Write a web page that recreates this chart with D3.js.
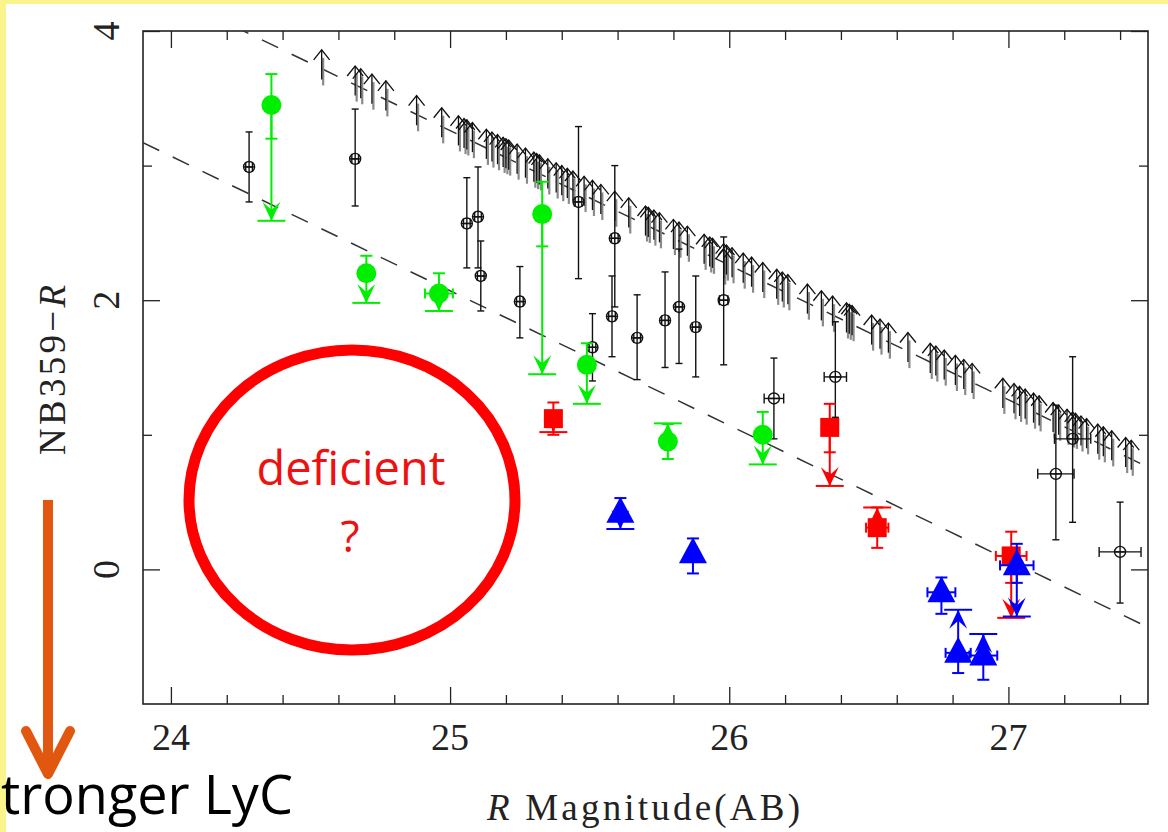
<!DOCTYPE html>
<html>
<head>
<meta charset="utf-8">
<script src="https://cdn.jsdelivr.net/npm/d3@7"></script>
<style>
  body { margin: 0; background: #fff; }
  .tick text { display: none; }
</style>
</head>
<body>
<div id="chart"></div>
<script>
// ---- lower limits (black arrows along the upper dashed line) ----
const limitMag = [24.54, 24.66, 24.68, 24.72, 24.77, 24.88, 24.97, 25.03, 25.05, 25.06,
    25.08, 25.13, 25.15, 25.17, 25.19, 25.20, 25.21, 25.24, 25.27, 25.30,
    25.31, 25.32, 25.35, 25.38, 25.40, 25.42, 25.44, 25.48, 25.51, 25.54,
    25.59, 25.64, 25.70, 25.71, 25.73, 25.75, 25.80, 25.82, 25.85, 25.91,
    25.93, 25.94, 25.98, 25.98, 25.99, 26.01, 26.05, 26.08, 26.12, 26.17,
    26.19, 26.21, 26.28, 26.33, 26.37, 26.42, 26.43, 26.44, 26.51, 26.54,
    26.57, 26.64, 26.72, 26.74, 26.77, 26.81, 26.84, 26.87, 26.98, 27.02,
    27.04, 27.06, 27.09, 27.11, 27.16, 27.18, 27.21, 27.23, 27.24, 27.26,
    27.28, 27.32, 27.34, 27.37, 27.42, 27.44];
const limitBase = [3.64, 3.52, 3.50, 3.46, 3.41, 3.30, 3.21, 3.15, 3.13, 3.12,
    3.10, 3.05, 3.03, 3.01, 2.99, 2.98, 2.97, 2.94, 2.91, 2.88,
    2.87, 2.86, 2.83, 2.80, 2.78, 2.76, 2.74, 2.70, 2.67, 2.64,
    2.59, 2.54, 2.48, 2.47, 2.45, 2.43, 2.38, 2.36, 2.33, 2.27,
    2.25, 2.24, 2.20, 2.16, 2.19, 2.17, 2.13, 2.10, 2.06, 2.01,
    1.99, 1.97, 1.90, 1.85, 1.81, 1.76, 1.75, 1.74, 1.67, 1.64,
    1.61, 1.54, 1.46, 1.44, 1.41, 1.37, 1.34, 1.31, 1.20, 1.16,
    1.14, 1.12, 1.09, 1.07, 1.02, 1.00, 0.97, 0.95, 0.94, 0.92,
    0.90, 0.86, 0.84, 0.81, 0.76, 0.74];

// ---- black detections ----
const blackMag  = [24.28, 24.66, 25.06, 25.10, 25.11, 25.25, 25.46, 25.59, 25.58, 25.51,
                   25.67, 25.77, 25.82, 25.88, 25.98, 26.16, 26.38, 27.17, 27.23, 27.40];
const blackVal  = [2.99, 3.05, 2.57, 2.62, 2.18, 1.99, 2.73, 2.46, 1.88, 1.65,
                   1.72, 1.85, 1.95, 1.80, 2.00, 1.27, 1.43, 0.71, 0.97, 0.13];
const blackHi   = [3.25, 3.42, 2.91, 2.99, 2.44, 2.25, 3.29, 3.00, 2.18, 1.90,
                   2.04, 2.21, 2.38, 2.18, 2.47, 1.57, 1.84, 1.22, 1.58, 0.50];
const blackLo   = [2.73, 2.70, 2.24, 2.24, 1.92, 1.72, 2.16, 1.95, 1.58, 1.40,
                   1.41, 1.50, 1.53, 1.43, 1.52, 0.97, 1.13, 0.22, 0.35, -0.25];
const blackXerr = [0.012, 0.012, 0.012, 0.012, 0.012, 0.012, 0.012, 0.012, 0.012, 0.012,
                   0.012, 0.012, 0.012, 0.012, 0.015, 0.035, 0.04, 0.065, 0.065, 0.075];

// ---- green circles ----
const greenMag  = [24.36, 24.70, 24.96, 25.33, 25.49, 25.78, 26.12];
const greenVal  = [3.45, 2.20, 2.05, 2.64, 1.52, 0.95, 1.00];
const greenHi   = [3.68, 2.33, 2.20, 2.88, 1.68, 1.08, 1.17];
const greenLo   = [3.20, null, null, 2.40, null, 0.82, null];
const greenLim  = [2.59, 1.98, 1.92, 1.45, 1.23, 1.085, 0.78];
const greenXerr = [0, 0, 0.05, 0, 0, 0, 0];

// ---- red squares ----
const redMag  = [25.37, 26.36, 26.53, 27.01];
const redVal  = [1.12, 1.055, 0.31, 0.10];
const redHi   = [1.24, 1.23, 0.46, 0.28];
const redLo   = [1.00, 0.87, 0.16, -0.10];
const redLim  = [1.02, 0.62, 0.46, -0.36];
const redXerr = [0, 0, 0.04, 0.055];

// ---- blue triangles ----
const blueMag  = [25.61, 25.87, 26.76, 26.82, 26.91, 27.03];
const blueVal  = [0.42, 0.12, -0.17, -0.62, -0.64, 0.03];
const blueHi   = [0.53, 0.23, -0.06, null, -0.48, 0.19];
const blueLo   = [null, -0.03, -0.33, -0.77, -0.82, -0.10];
const blueLim  = [0.30, null, null, -0.30, -0.48, -0.35];
const blueXerr = [0, 0, 0.05, 0.045, 0.05, 0.06];

// dashed reference lines: NB359-R = c - R
const dashLineC = [28.26, 27.07];

const xMajor = [24, 25, 26, 27];
const xMinor = [24.2, 24.4, 24.6, 24.8, 25.2, 25.4, 25.6, 25.8, 26.2, 26.4, 26.6, 26.8, 27.2, 27.4];
const yMajor = [0, 2, 4];
const yMinor = [1, 3];

const W = 1168, H = 832;
const frame = { left: 143, right: 1148, top: 31, bottom: 704 };

const svg = d3.select("#chart").append("svg")
    .attr("width", W)
    .attr("height", H)
    .style("font-family", "'Liberation Serif', serif");

svg.append("rect").attr("width", W).attr("height", H).attr("fill", "#fff");
// slide border
svg.append("rect").attr("width", W).attr("height", 4).attr("fill", "#fbf38c");
svg.append("rect").attr("width", 6).attr("height", H).attr("fill", "#fbf38c");

const x = d3.scaleLinear().domain([23.9, 27.5]).range([frame.left, frame.right]);
const y = d3.scaleLinear().domain([-1, 4]).range([frame.bottom, frame.top]);

svg.append("defs").append("clipPath").attr("id", "plot")
    .append("rect")
    .attr("x", frame.left).attr("y", frame.top)
    .attr("width", frame.right - frame.left)
    .attr("height", frame.bottom - frame.top);

// ---- axes ----
function addAxis(axisFn, scale, values, size, transform) {
    const g = svg.append("g")
        .attr("transform", transform)
        .call(axisFn(scale).tickValues(values).tickSize(-size).tickFormat(""));
    g.select(".domain").remove();
    g.selectAll(".tick line").attr("stroke", "#222").attr("stroke-width", 1.3);
}
addAxis(d3.axisBottom, x, xMajor, 17, `translate(0,${frame.bottom})`);
addAxis(d3.axisBottom, x, xMinor, 9, `translate(0,${frame.bottom})`);
addAxis(d3.axisTop, x, xMajor, 17, `translate(0,${frame.top})`);
addAxis(d3.axisTop, x, xMinor, 9, `translate(0,${frame.top})`);
addAxis(d3.axisLeft, y, yMajor, 17, `translate(${frame.left},0)`);
addAxis(d3.axisLeft, y, yMinor, 9, `translate(${frame.left},0)`);
addAxis(d3.axisRight, y, yMajor, 17, `translate(${frame.right},0)`);
addAxis(d3.axisRight, y, yMinor, 9, `translate(${frame.right},0)`);

svg.append("rect")
    .attr("x", frame.left).attr("y", frame.top)
    .attr("width", frame.right - frame.left)
    .attr("height", frame.bottom - frame.top)
    .attr("fill", "none")
    .attr("stroke", "#222")
    .attr("stroke-width", 1.6);

// tick labels
svg.append("g").selectAll("text")
    .data(xMajor).join("text")
    .attr("x", d => x(d))
    .attr("y", 750)
    .attr("text-anchor", "middle")
    .attr("font-size", 38)
    .attr("fill", "#222")
    .text(d => d);

svg.append("g").selectAll("text")
    .data(yMajor).join("text")
    .attr("transform", d => `translate(119,${y(d)}) rotate(-90)`)
    .attr("text-anchor", "middle")
    .attr("font-size", 38)
    .attr("fill", "#222")
    .text(d => d);

// axis titles
const xTitle = svg.append("text")
    .attr("x", 487).attr("y", 820)
    .attr("font-size", 37)
    .attr("fill", "#222")
    .attr("textLength", 313)
    .attr("lengthAdjust", "spacing");
xTitle.append("tspan").attr("font-style", "italic").text("R");
xTitle.append("tspan").text(" Magnitude(AB)");

const yTitle = svg.append("text")
    .attr("transform", "translate(65,455) rotate(-90)")
    .attr("font-size", 37)
    .attr("fill", "#222")
    .attr("textLength", 170)
    .attr("lengthAdjust", "spacing");
yTitle.append("tspan").text("NB359\u2212");
yTitle.append("tspan").attr("font-style", "italic").text("R");

// ---- plot contents ----
const plot = svg.append("g").attr("clip-path", "url(#plot)");

// dashed lines
plot.append("g").selectAll("line")
    .data(dashLineC).join("line")
    .attr("x1", x(23.9)).attr("y1", c => y(c - 23.9))
    .attr("x2", x(27.5)).attr("y2", c => y(c - 27.5))
    .attr("stroke", "#333")
    .attr("stroke-width", 1.5)
    .attr("stroke-dasharray", "18,15");

// lower-limit arrows
const arrowLen = 0.22;
const limits = limitMag.map((m, i) => ({ m, base: limitBase[i] }));
const limG = plot.append("g");
limG.selectAll("line.ghost")
    .data(limits).join("line")
    .attr("class", "ghost")
    .attr("x1", d => x(d.m) + 1.5).attr("x2", d => x(d.m) + 1.5)
    .attr("y1", d => y(d.base) + 6)
    .attr("y2", d => y(d.base + arrowLen) + 8)
    .attr("stroke", "#8a8a8a")
    .attr("stroke-width", 2.2);
limG.selectAll("line.shaft")
    .data(limits).join("line")
    .attr("class", "shaft")
    .attr("x1", d => x(d.m)).attr("x2", d => x(d.m))
    .attr("y1", d => y(d.base))
    .attr("y2", d => y(d.base + arrowLen))
    .attr("stroke", "#111")
    .attr("stroke-width", 1.3);
limG.selectAll("path")
    .data(limits).join("path")
    .attr("transform", d => `translate(${x(d.m)},${y(d.base + arrowLen)})`)
    .attr("d", "M-8,10 L0,0 L8,10")
    .attr("fill", "none")
    .attr("stroke", "#111")
    .attr("stroke-width", 1.3);

function drawSeries(opts) {
    const pts = opts.mag.map((m, i) => ({
        m,
        v: opts.val[i],
        hi: opts.hi[i],
        lo: opts.lo ? opts.lo[i] : null,
        lim: opts.lim ? opts.lim[i] : null,
        xerr: opts.xerr[i]
    }));
    const g = plot.append("g")
        .attr("stroke", opts.color)
        .attr("stroke-width", opts.lw);

    pts.forEach(p => {
        const cx = x(p.m), cy = y(p.v);
        // vertical error bar
        const top = p.hi != null ? p.hi : p.v;
        const bot = p.lo != null ? p.lo : p.v;
        g.append("line").attr("x1", cx).attr("x2", cx).attr("y1", y(top)).attr("y2", y(bot));
        if (p.hi != null) {
            g.append("line").attr("x1", cx - opts.cap).attr("x2", cx + opts.cap)
                .attr("y1", y(p.hi)).attr("y2", y(p.hi));
        }
        if (p.lo != null) {
            g.append("line").attr("x1", cx - opts.cap).attr("x2", cx + opts.cap)
                .attr("y1", y(p.lo)).attr("y2", y(p.lo));
        }
        // horizontal error bar
        if (p.xerr > 0) {
            const x0 = x(p.m - p.xerr), x1 = x(p.m + p.xerr);
            g.append("line").attr("x1", x0).attr("x2", x1).attr("y1", cy).attr("y2", cy);
            g.append("line").attr("x1", x0).attr("x2", x0).attr("y1", cy - 5).attr("y2", cy + 5);
            g.append("line").attr("x1", x1).attr("x2", x1).attr("y1", cy - 5).attr("y2", cy + 5);
        }
        // limit arrow with bar
        if (p.lim != null) {
            const ly = y(p.lim);
            const down = p.lim < p.v;
            g.append("line").attr("x1", cx).attr("x2", cx).attr("y1", cy).attr("y2", ly);
            g.append("path")
                .attr("transform", `translate(${cx},${ly}) rotate(${down ? 0 : 180})`)
                .attr("d", "M0,0 L-9,-19 L0,-11 L9,-19Z")
                .attr("fill", opts.color)
                .attr("stroke", "none");
            g.append("line").attr("x1", cx - 14).attr("x2", cx + 14).attr("y1", ly).attr("y2", ly);
        }
    });

    opts.marker(g, pts);
}

// black detections
drawSeries({
    mag: blackMag, val: blackVal, hi: blackHi, lo: blackLo, xerr: blackXerr,
    color: "#111", lw: 1.4, cap: 3.5,
    marker: (g, pts) => {
        g.selectAll("circle").data(pts).join("circle")
            .attr("cx", d => x(d.m)).attr("cy", d => y(d.v))
            .attr("r", 5.5)
            .attr("fill", "none");
        g.selectAll("line.cross").data(pts).join("line")
            .attr("class", "cross")
            .attr("x1", d => x(d.m) - 5.5).attr("x2", d => x(d.m) + 5.5)
            .attr("y1", d => y(d.v)).attr("y2", d => y(d.v));
    }
});

drawSeries({
    mag: greenMag, val: greenVal, hi: greenHi, lo: greenLo, lim: greenLim, xerr: greenXerr,
    color: "#00ee00", lw: 2, cap: 6,
    marker: (g, pts) => {
        g.selectAll("circle").data(pts).join("circle")
            .attr("cx", d => x(d.m)).attr("cy", d => y(d.v))
            .attr("r", 10)
            .attr("fill", "#00ee00")
            .attr("stroke", "none");
    }
});

drawSeries({
    mag: redMag, val: redVal, hi: redHi, lo: redLo, lim: redLim, xerr: redXerr,
    color: "#ff0000", lw: 2, cap: 6,
    marker: (g, pts) => {
        g.selectAll("rect").data(pts).join("rect")
            .attr("x", d => x(d.m) - 9.5).attr("y", d => y(d.v) - 9.5)
            .attr("width", 19).attr("height", 19)
            .attr("fill", "#ff0000")
            .attr("stroke", "none");
    }
});

drawSeries({
    mag: blueMag, val: blueVal, hi: blueHi, lo: blueLo, lim: blueLim, xerr: blueXerr,
    color: "#0000ff", lw: 2, cap: 6,
    marker: (g, pts) => {
        g.selectAll("path.tri").data(pts).join("path")
            .attr("class", "tri")
            .attr("transform", d => `translate(${x(d.m)},${y(d.v)})`)
            .attr("d", "M0,-16 L14,10 L-14,10Z")
            .attr("fill", "#0000ff")
            .attr("stroke", "none");
    }
});

// ---- slide annotations ----
svg.append("ellipse")
    .attr("cx", 352).attr("cy", 500)
    .attr("rx", 163).attr("ry", 150)
    .attr("fill", "none")
    .attr("stroke", "#ff0000")
    .attr("stroke-width", 11);

svg.append("text")
    .attr("x", 351).attr("y", 485)
    .attr("text-anchor", "middle")
    .attr("font-family", "'Open Sans', sans-serif")
    .attr("font-size", 47)
    .attr("fill", "#ee1111")
    .text("deficient");
svg.append("text")
    .attr("x", 350).attr("y", 552)
    .attr("text-anchor", "middle")
    .attr("font-family", "'Open Sans', sans-serif")
    .attr("font-size", 44)
    .attr("fill", "#ee1111")
    .text("?");

// orange arrow
const arrowColor = "#e2570f";
svg.append("line")
    .attr("x1", 48).attr("x2", 48)
    .attr("y1", 500).attr("y2", 770)
    .attr("stroke", arrowColor)
    .attr("stroke-width", 10);
svg.append("path")
    .attr("d", "M26,731 L48,774 L70,731")
    .attr("fill", "none")
    .attr("stroke", arrowColor)
    .attr("stroke-width", 10)
    .attr("stroke-linecap", "round")
    .attr("stroke-linejoin", "round");

svg.append("text")
    .attr("x", 1).attr("y", 814)
    .attr("font-family", "'Open Sans', sans-serif")
    .attr("font-size", 54)
    .attr("fill", "#000")
    .text("tronger LyC");
</script>
</body>
</html>
